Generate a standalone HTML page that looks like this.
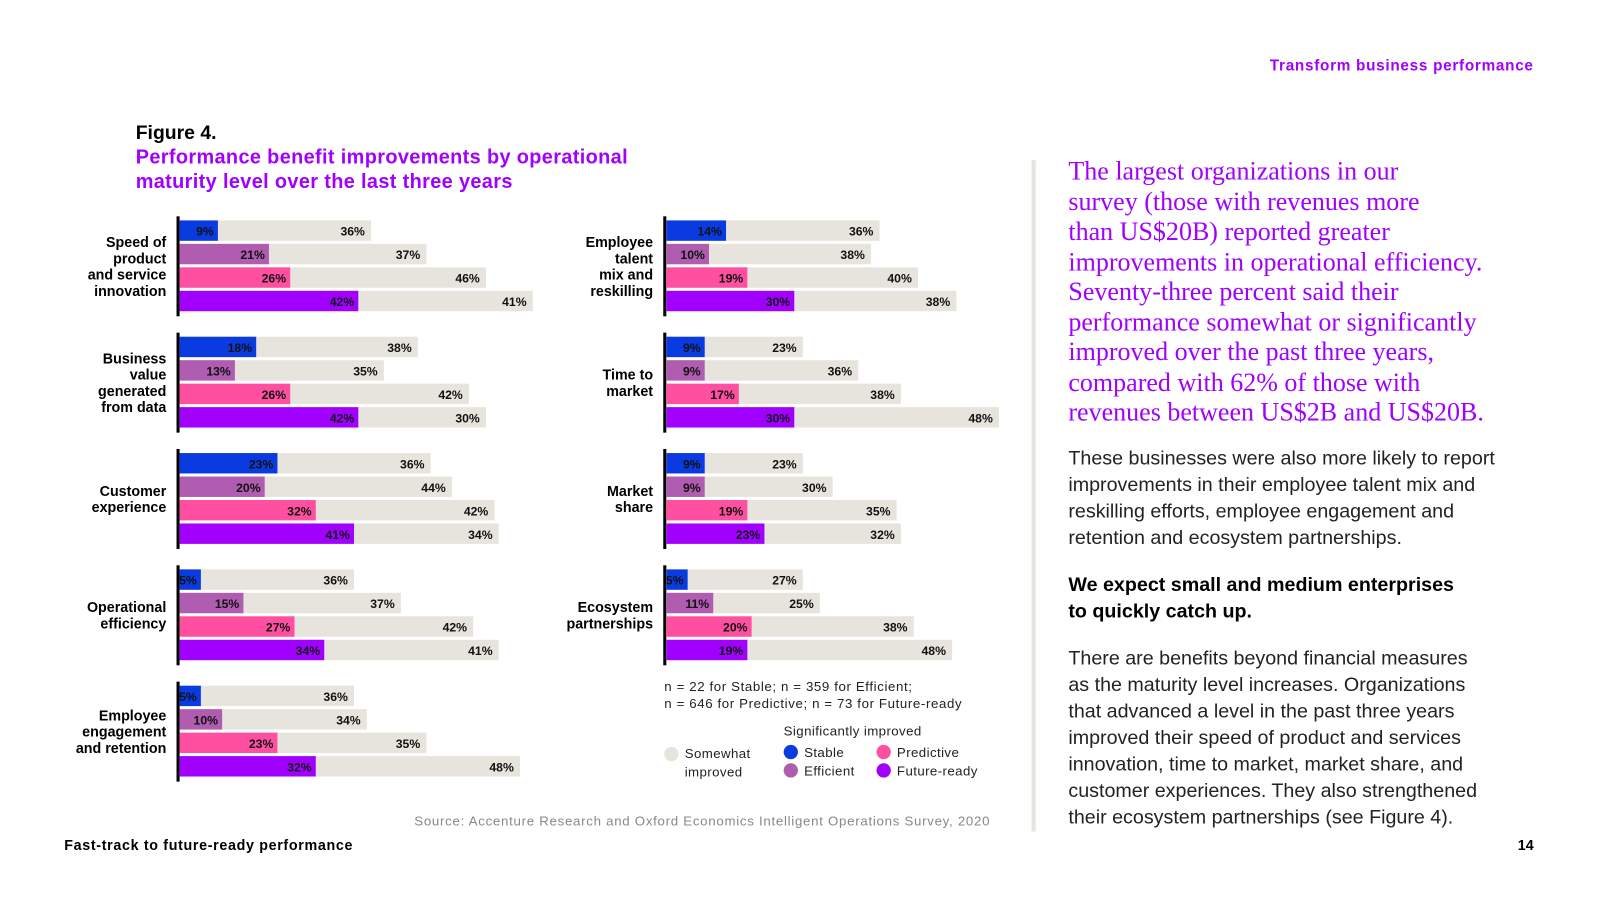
<!DOCTYPE html>
<html><head><meta charset="utf-8">
<style>
html,body{margin:0;width:1600px;height:900px;background:#fff;overflow:hidden;}
#root{position:absolute;left:0;top:0;width:1568px;height:882px;transform:scale(1.0204);transform-origin:0 0;font-family:"Liberation Sans",sans-serif;}
.a{position:absolute;white-space:nowrap;}
.lab{position:absolute;font-weight:bold;font-size:14px;text-align:right;line-height:16px;color:#000;}
.serif{font-family:"Liberation Serif",serif;color:#a100ff;font-size:25.5px;}
.body{font-size:19.3px;color:#222;}
.leg{font-size:13px;color:#222;letter-spacing:0.4px;}
</style></head><body>
<div id="root">
<div class="a" style="right:65px;top:56px;font-size:15px;font-weight:bold;color:#a100ff;letter-spacing:0.7px">Transform business performance</div>
<div class="a" style="left:133px;top:120px;font-size:19px;font-weight:bold">Figure 4.</div>
<div class="a" style="left:133px;top:142px;font-size:19.5px;font-weight:bold;color:#a100ff;line-height:24px;letter-spacing:0.35px">Performance benefit improvements by operational<br>maturity level over the last three years</div>
<svg id="chart" width="1000" height="800" style="position:absolute;left:0;top:0"></svg>
<div class="a" style="left:651px;top:664px;font-size:13px;color:#222;line-height:17px;letter-spacing:0.6px">n = 22 for Stable; n = 359 for Efficient;<br>n = 646 for Predictive; n = 73 for Future-ready</div>
<div class="a leg" style="left:768px;top:709px">Significantly improved</div>
<div>
<div class="a leg" style="left:651px;top:730px;line-height:18px"><span style="position:absolute;left:0;top:2px;width:14px;height:14px;border-radius:50%;background:#e6e4dc"></span><span style="margin-left:20px;display:inline-block">Somewhat<br>improved</span></div>
<div class="a leg" style="left:768px;top:730px"><span style="display:inline-block;width:14px;height:14px;border-radius:50%;background:#0a3be0;vertical-align:-2px;margin-right:6px"></span>Stable</div>
<div class="a leg" style="left:768px;top:748px"><span style="display:inline-block;width:14px;height:14px;border-radius:50%;background:#b05cb0;vertical-align:-2px;margin-right:6px"></span>Efficient</div>
<div class="a leg" style="left:859px;top:730px"><span style="display:inline-block;width:14px;height:14px;border-radius:50%;background:#ff4fa0;vertical-align:-2px;margin-right:6px"></span>Predictive</div>
<div class="a leg" style="left:859px;top:748px"><span style="display:inline-block;width:14px;height:14px;border-radius:50%;background:#a100ff;vertical-align:-2px;margin-right:6px"></span>Future-ready</div>
</div>
<div class="a" style="left:406px;top:797px;font-size:13px;color:#888;letter-spacing:0.7px">Source: Accenture Research and Oxford Economics Intelligent Operations Survey, 2020</div>
<div class="a" style="left:1011px;top:157px;width:4px;height:658px;background:#e6e4dc"></div>
<div class="a serif" style="left:1047px;top:153px;line-height:29.5px">The largest organizations in our<br>survey (those with revenues more<br>than US$20B) reported greater<br>improvements in operational efficiency.<br>Seventy-three percent said their<br>performance somewhat or significantly<br>improved over the past three years,<br>compared with 62% of those with<br>revenues between US$2B and US$20B.</div>
<div class="a body" style="left:1047px;top:437px;line-height:26px">These businesses were also more likely to report<br>improvements in their employee talent mix and<br>reskilling efforts, employee engagement and<br>retention and ecosystem partnerships.</div>
<div class="a body" style="left:1047px;top:561px;line-height:26px;font-weight:bold;color:#000">We expect small and medium enterprises<br>to quickly catch up.</div>
<div class="a body" style="left:1047px;top:633px;line-height:26px">There are benefits beyond financial measures<br>as the maturity level increases. Organizations<br>that advanced a level in the past three years<br>improved their speed of product and services<br>innovation, time to market, market share, and<br>customer experiences. They also strengthened<br>their ecosystem partnerships (see Figure 4).</div>
<div class="a" style="left:63px;top:820px;font-size:14px;font-weight:bold;letter-spacing:0.65px">Fast-track to future-ready performance</div>
<div class="a" style="right:65px;top:820px;font-size:14px;font-weight:bold">14</div>
</div>
<script>
const leftCategories=["Speed of|product|and service|innovation","Business|value|generated|from data","Customer|experience","Operational|efficiency","Employee|engagement|and retention"];
const rightCategories=["Employee|talent|mix and|reskilling","Time to|market","Market|share","Ecosystem|partnerships"];
const leftSignificant=[[9,21,26,42],[18,13,26,42],[23,20,32,41],[5,15,27,34],[5,10,23,32]];
const leftSomewhat=[[36,37,46,41],[38,35,42,30],[36,44,42,34],[36,37,42,41],[36,34,35,48]];
const rightSignificant=[[14,10,19,30],[9,9,17,30],[9,9,19,23],[5,11,20,19]];
const rightSomewhat=[[36,38,40,38],[23,36,38,48],[23,30,35,32],[27,25,38,48]];
const levels=["stable","efficient","predictive","future-ready"];
const colors=["#0a3be0","#b05cb0","#ff4fa0","#a100ff"];
const svg=document.getElementById('chart');
const root=document.getElementById('root');
const NS='http://www.w3.org/2000/svg';
function mk(t,at){const e=document.createElementNS(NS,t);for(const k in at)e.setAttribute(k,at[k]);svg.appendChild(e);return e;}
function panel(cats,sig,som,x0,scale,side){
  const xs=v=>x0+v*scale;
  cats.forEach((c,g)=>{
    const gy=216+g*114;
    const ax=mk('rect',{x:x0-3,y:gy-4,width:3,height:98,fill:'#000'});
    
    
    const lines=c.split('|');
    const lab=document.createElement('div');
    lab.className='lab';
    
    
    lab.innerHTML=lines.join('<br>');
    lab.style.right=(1568-(x0-13))+'px';
    lab.style.top=(gy+45-lines.length*8)+'px';
    root.appendChild(lab);
    for(let i=0;i<4;i++){
      const y=gy+i*23, s=sig[g][i], t=som[g][i];
      const r2=mk('rect',{x:xs(0),y:y,width:xs(s+t)-xs(0),height:20,fill:'#e6e4dc'});
      
      
      const r1=mk('rect',{x:xs(0),y:y,width:xs(s)-xs(0),height:20,fill:colors[i]});
      
      
      const t1=mk('text',{x:xs(s)-4,y:y+15,'text-anchor':'end','font-size':12,'font-weight':'bold','font-family':'Liberation Sans',fill:'#111'});
      t1.textContent=s+'%';
      
      
      const t2=mk('text',{x:xs(s+t)-6,y:y+15,'text-anchor':'end','font-size':12,'font-weight':'bold','font-family':'Liberation Sans',fill:'#111'});
      t2.textContent=t+'%';
      
      
    }
  });
}
panel(leftCategories,leftSignificant,leftSomewhat,176,4.17,'left');
panel(rightCategories,rightSignificant,rightSomewhat,653,4.18,'right');
</script>
</body></html>
